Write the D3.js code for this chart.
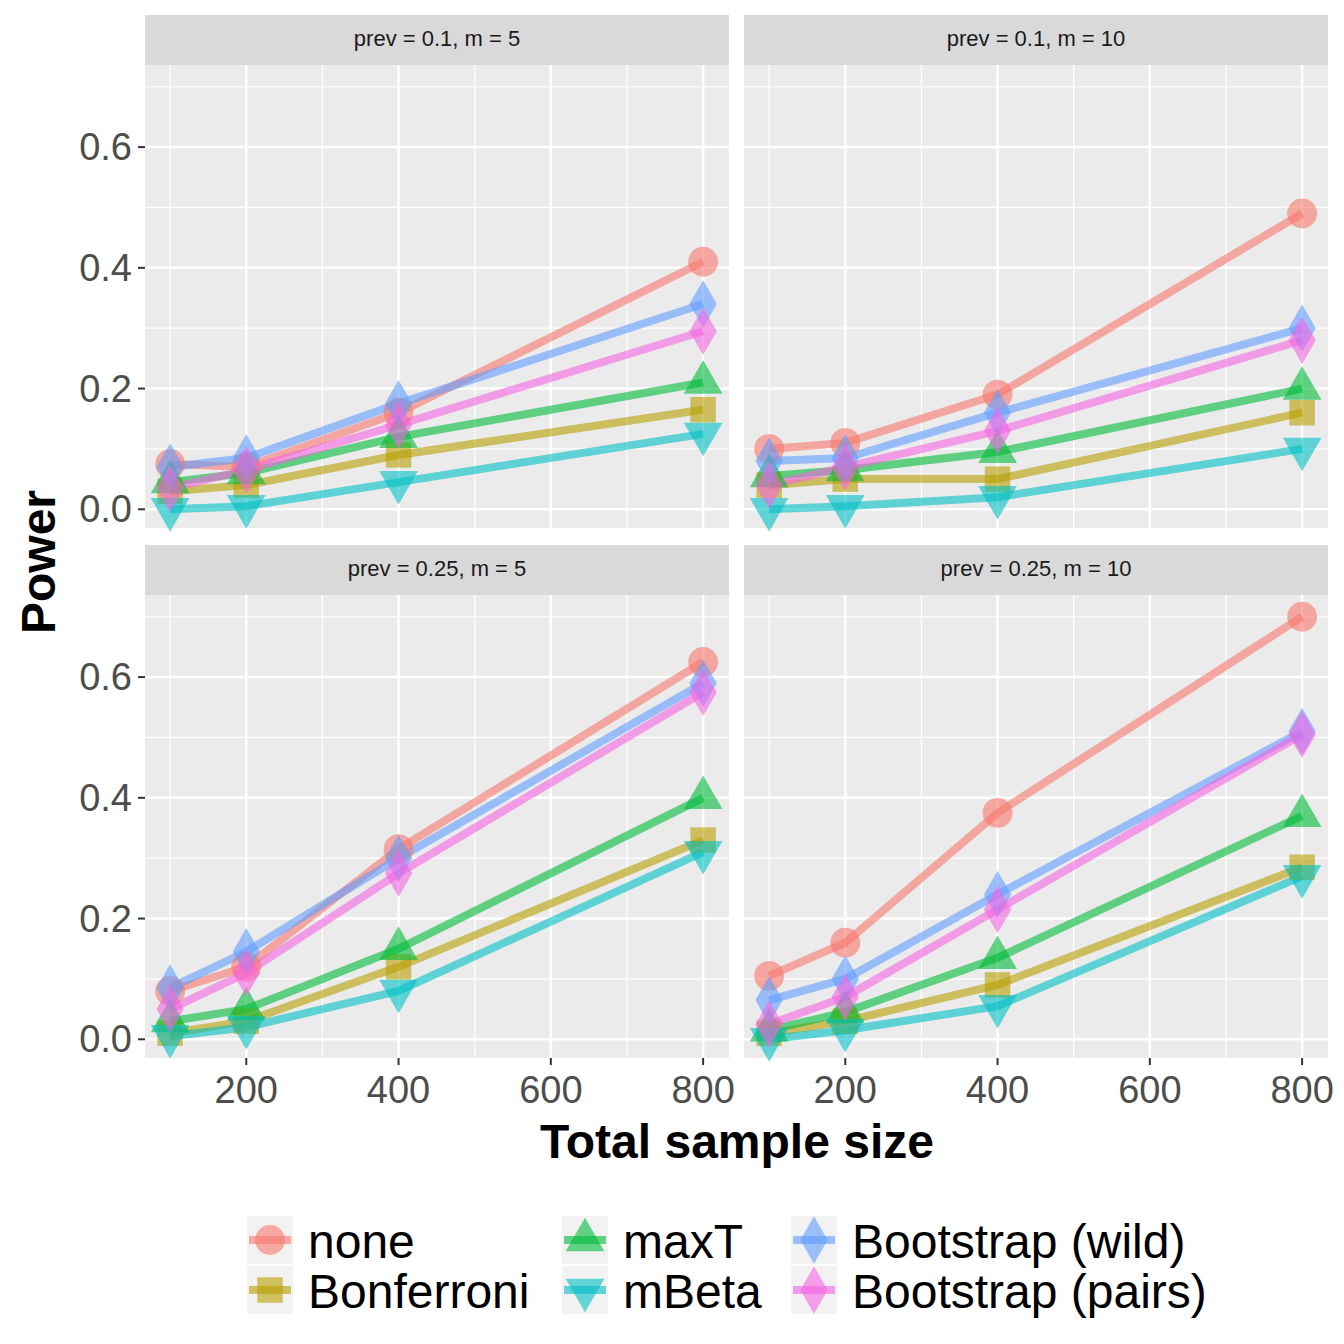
<!DOCTYPE html><html><head><meta charset="utf-8"><script src="https://cdn.jsdelivr.net/npm/d3@7"></script>
<style>body{margin:0;background:#fff}</style></head><body><svg id="c" width="1344" height="1344"></svg><script>
const sizes=[100,200,400,800];
const methods=["none","Bonferroni","maxT","mBeta","Bootstrap (wild)","Bootstrap (pairs)"];
const colors=["#F8766D","#B79F00","#00BA38","#00BFC4","#619CFF","#F564E3"];
const shapes=["circle","square","up","down","diamond","diamond"];
const panelTitles=["prev =  0.1, m =  5","prev =  0.1, m =  10","prev =  0.25, m =  5","prev =  0.25, m =  10"];
const p1=[[0.075,0.07,0.16,0.41],[0.03,0.04,0.09,0.165],[0.045,0.06,0.12,0.21],[0.0,0.005,0.045,0.125],[0.07,0.085,0.175,0.34],[0.035,0.065,0.14,0.295]];
const p2=[[0.10,0.11,0.19,0.49],[0.04,0.05,0.05,0.16],[0.055,0.065,0.095,0.20],[0.0,0.005,0.02,0.10],[0.08,0.085,0.16,0.30],[0.04,0.07,0.13,0.28]];
const p3=[[0.08,0.12,0.315,0.625],[0.01,0.03,0.12,0.33],[0.03,0.05,0.15,0.40],[0.005,0.02,0.08,0.31],[0.085,0.145,0.30,0.59],[0.05,0.11,0.275,0.575]];
const p4=[[0.105,0.16,0.375,0.70],[0.01,0.03,0.09,0.285],[0.015,0.045,0.135,0.37],[0.0,0.015,0.055,0.27],[0.065,0.10,0.24,0.51],[0.025,0.07,0.215,0.505]];
const panels=[p1,p2,p3,p4];
const yTicks=[0,0.2,0.4,0.6], xTicks=[200,400,600,800];
const svg=d3.select("#c");
const sym=s=>s=="circle"?d3.symbol(d3.symbolCircle,700):s=="square"?d3.symbol(d3.symbolSquare,650):s=="up"?d3.symbol(d3.symbolTriangle,650):s=="down"?d3.symbol(d3.symbolTriangle,650):d3.symbol(d3.symbolDiamond,650);
const rot=s=>s=="down"?"rotate(180)":s=="diamond"?"rotate(0)":"";
const PX=[145,744],PY=[65,595],PW=584,PH=463;
panels.forEach((data,i)=>{
 const x0=PX[i%2],y0=PY[Math.floor(i/2)];
 const g=svg.append("g").attr("transform",`translate(${x0},${y0})`);
 const x=d3.scaleLinear().domain([67,834]).range([0,PW]);
 const y=d3.scaleLinear().domain([-0.031,0.736]).range([PH,0]);
 g.append("rect").attr("width",PW).attr("height",PH).attr("fill","#EBEBEB");
 g.append("rect").attr("y",-50).attr("width",PW).attr("height",50).attr("fill","#D9D9D9");
 g.append("text").attr("x",PW/2).attr("y",-19).attr("text-anchor","middle").attr("font-family","Liberation Sans, Arial").attr("font-size",22).attr("fill","#1A1A1A").text(panelTitles[i]);
 [0.1,0.3,0.5,0.7].forEach(v=>g.append("line").attr("x1",0).attr("x2",PW).attr("y1",y(v)).attr("y2",y(v)).attr("stroke","#fff").attr("stroke-width",1.2));
 [100,300,500,700].forEach(v=>g.append("line").attr("y1",0).attr("y2",PH).attr("x1",x(v)).attr("x2",x(v)).attr("stroke","#fff").attr("stroke-width",1.2));
 yTicks.forEach(v=>g.append("line").attr("x1",0).attr("x2",PW).attr("y1",y(v)).attr("y2",y(v)).attr("stroke","#fff").attr("stroke-width",2.5));
 xTicks.forEach(v=>g.append("line").attr("y1",0).attr("y2",PH).attr("x1",x(v)).attr("x2",x(v)).attr("stroke","#fff").attr("stroke-width",2.5));
 if(i%2==0){yTicks.forEach(v=>{g.append("line").attr("x1",-7).attr("x2",0).attr("y1",y(v)).attr("y2",y(v)).attr("stroke","#333").attr("stroke-width",2);
  g.append("text").attr("x",-13).attr("y",y(v)+13).attr("text-anchor","end").attr("font-family","Liberation Sans, Arial").attr("font-size",38).attr("fill","#4D4D4D").text(v.toFixed(1));});}
 if(i>=2){xTicks.forEach(v=>{g.append("line").attr("y1",PH).attr("y2",PH+7).attr("x1",x(v)).attr("x2",x(v)).attr("stroke","#333").attr("stroke-width",2);
  g.append("text").attr("x",x(v)).attr("y",PH+45).attr("text-anchor","middle").attr("font-family","Liberation Sans, Arial").attr("font-size",38).attr("fill","#4D4D4D").text(v);});}
 const line=d3.line().x((d,j)=>x(sizes[j])).y(d=>y(d));
 data.forEach((s,k)=>g.append("path").attr("d",line(s)).attr("fill","none").attr("stroke",colors[k]).attr("stroke-width",8).attr("opacity",0.6));
 data.forEach((s,k)=>s.forEach((v,j)=>g.append("path").attr("d",sym(shapes[k])()).attr("transform",`translate(${x(sizes[j])},${y(v)}) ${rot(shapes[k])}`).attr("fill",colors[k]).attr("opacity",0.6)));
});
svg.append("text").attr("transform","translate(55,562) rotate(-90)").attr("text-anchor","middle").attr("font-family","Liberation Sans, Arial").attr("font-weight","bold").attr("font-size",48).text("Power");
svg.append("text").attr("x",737).attr("y",1158).attr("text-anchor","middle").attr("font-family","Liberation Sans, Arial").attr("font-weight","bold").attr("font-size",48).text("Total sample size");
const legPos=[[247,1240],[247,1290],[562,1240],[562,1290],[791,1240],[791,1290]];
methods.forEach((m,k)=>{const [lx,ly]=legPos[k];
 svg.append("rect").attr("x",lx).attr("y",ly-24).attr("width",46).attr("height",48).attr("fill","#F2F2F2");
 svg.append("line").attr("x1",lx+2).attr("x2",lx+44).attr("y1",ly).attr("y2",ly).attr("stroke",colors[k]).attr("stroke-width",8).attr("opacity",0.6);
 svg.append("path").attr("d",sym(shapes[k])()).attr("transform",`translate(${lx+23},${ly}) ${rot(shapes[k])}`).attr("fill",colors[k]).attr("opacity",0.6);
 svg.append("text").attr("x",lx+61).attr("y",ly+18).attr("font-family","Liberation Sans, Arial").attr("font-size",48).attr("fill","#000").text(m);});
</script></body></html>
